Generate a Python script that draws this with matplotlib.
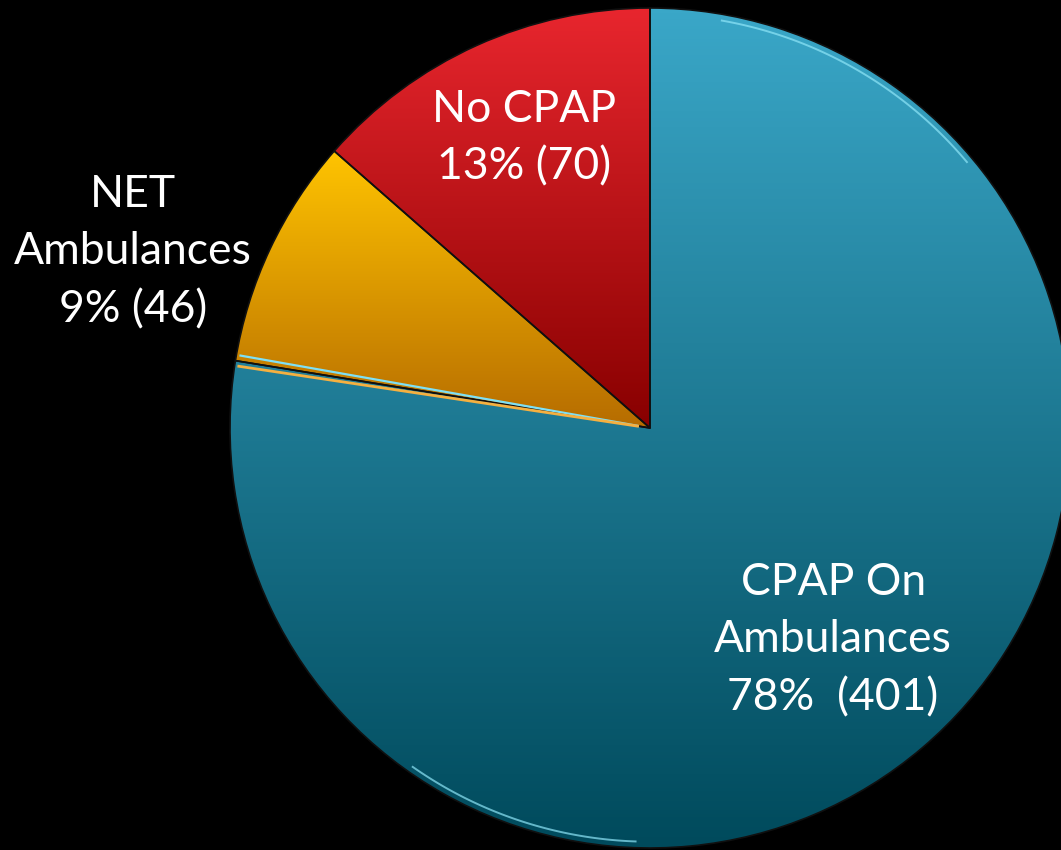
import numpy as np
import matplotlib
matplotlib.use("Agg")
import matplotlib.pyplot as plt
from matplotlib.colors import LinearSegmentedColormap

# ambulance CPAP survey
labels = ["CPAP On\nAmbulances", "NET\nAmbulances", "No CPAP"]
counts = [401, 46, 70]
pcts = ["78%  (401)", "9% (46)", "13% (70)"]
top_cols = ["#3aa7c8", "#ffc400", "#e8262e"]
bot_cols = ["#004a5c", "#b66c00", "#880000"]
# label centres, in units of the pie radius
label_xy = [(0.436, -0.505), (-1.231, 0.419), (-0.30, 0.69)]

plt.rcParams['font.family'] = ['Lato', 'DejaVu Sans']

fig = plt.figure(figsize=(10.61, 8.5), dpi=100, facecolor="black")
ax = fig.add_axes([0, 0, 1, 1])
ax.set_facecolor("black")

R = 420.0
cx, cy = 650.0, 428.0

wedges, _ = ax.pie(counts, startangle=90, counterclock=False, radius=1.0,
                   wedgeprops=dict(edgecolor="#101010", linewidth=1.2))

grad = np.linspace(0, 1, 256).reshape(-1, 1)
for w, tc, bc in zip(wedges, top_cols, bot_cols):
    w.set_facecolor("none")
    ext = w.get_path().get_extents()
    cmap = LinearSegmentedColormap.from_list("g", [bc, tc])
    im = ax.imshow(grad, extent=(ext.x0, ext.x1, ext.y0, ext.y1), origin="lower",
                   cmap=cmap, aspect="auto", zorder=1, interpolation="bilinear")
    im.set_clip_path(w)
    w.set_zorder(2)

# highlight along the teal/yellow boundary
t = np.deg2rad(wedges[0].theta1)
r = np.array([0.03, 0.99])
ax.plot(r * np.cos(t - 0.014), r * np.sin(t - 0.014), color="#7fe0f5", lw=1.6, zorder=3)
ax.plot(r * np.cos(t + 0.012), r * np.sin(t + 0.012), color="#f5b040", lw=2.0, zorder=3)

# highlights on the outer rim
for a0, a1 in [(40, 80), (235, 268)]:
    th = np.deg2rad(np.linspace(a0, a1, 100))
    ax.plot(0.985 * np.cos(th), 0.985 * np.sin(th), color="#8fe6f8", lw=1.4,
            alpha=0.7, zorder=3)

for (x, y), lab, pc in zip(label_xy, labels, pcts):
    ax.text(x, y, lab + "\n" + pc, color="white", fontsize=32,
            ha="center", va="center", linespacing=1.5, zorder=4)

ax.set_aspect("auto")
ax.set_xlim(-cx / R, (1061 - cx) / R)
ax.set_ylim(-(850 - cy) / R, cy / R)
ax.axis("off")

fig.savefig("out.png", dpi=100, facecolor="black")
